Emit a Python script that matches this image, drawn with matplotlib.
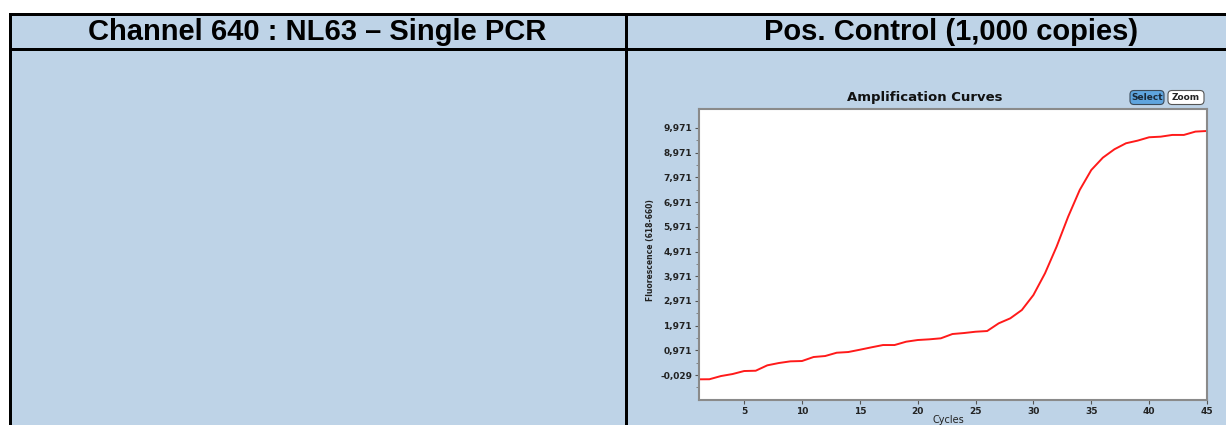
import matplotlib
matplotlib.use("Agg")
import matplotlib.pyplot as plt
from matplotlib.patches import Rectangle, FancyBboxPatch
from matplotlib.ticker import FixedLocator

# ---- data ----
headers = ["Channel 640 : NL63 \u2013 Single PCR", "Pos. Control (1,000 copies)"]
cycles = list(range(1, 46))
fluorescence = [-203, -200, -70, 11, 133, 145, 363, 457, 525, 538,
                700, 740, 874, 902, 995, 1092, 1185, 1185, 1320, 1388,
                1416, 1457, 1631, 1671, 1724, 1752, 2064, 2266, 2603, 3210,
                4088, 5165, 6380, 7461, 8270, 8770, 9110, 9353, 9459, 9596,
                9620, 9690, 9690, 9825, 9850]
y_ticks = [-29, 971, 1971, 2971, 3971, 4971, 5971, 6971, 7971, 8971, 9971]
y_tick_labels = ["-0,029", "0,971", "1,971", "2,971", "3,971", "4,971",
                 "5,971", "6,971", "7,971", "8,971", "9,971"]
x_ticks = [5, 10, 15, 20, 25, 30, 35, 40, 45]
chart_title = "Amplification Curves"
x_label = "Cycles"
y_label = "Fluorescence (618-660)"

W, H = 1226, 425
BG = "#BED3E7"

fig = plt.figure(figsize=(W / 100, H / 100), dpi=100)
fig.patch.set_facecolor("white")

# table layer in pixel coordinates
tab = fig.add_axes([0, 0, 1, 1])
tab.set_xlim(0, W)
tab.set_ylim(H, 0)
tab.axis("off")
tab.add_patch(Rectangle((9.5, 13.5), W, H, facecolor=BG, edgecolor="none"))
lw = 3.0 * 72 / 100
tab.plot([9.5, W], [13.5, 13.5], color="black", lw=lw, solid_capstyle="projecting")
tab.plot([9.5, W], [48.8, 48.8], color="black", lw=lw)
tab.plot([9.5, 9.5], [13.5, H], color="black", lw=lw)
tab.plot([625.5, 625.5], [13.5, H], color="black", lw=lw)
tab.text(317, 32, headers[0], ha="center", va="center", fontsize=21,
         fontweight="bold", family="Liberation Sans", color="black")
tab.text(951, 32, headers[1], ha="center", va="center", fontsize=21,
         fontweight="bold", family="Liberation Sans", color="black")

# chart title and buttons
tab.text(925, 97, chart_title, ha="center", va="center", fontsize=9.5,
         fontweight="bold", family="DejaVu Sans", color="#111111")
tab.add_patch(FancyBboxPatch((1130, 90.5), 34, 14, boxstyle="round,pad=0,rounding_size=4",
                             facecolor="#5FA4DE", edgecolor="#3a4a5a", lw=0.8))
tab.text(1147, 97.8, "Select", ha="center", va="center", fontsize=6.5,
         fontweight="bold", family="DejaVu Sans", color="#1a2a3a")
tab.add_patch(FancyBboxPatch((1168, 90.5), 36, 14, boxstyle="round,pad=0,rounding_size=4",
                             facecolor="white", edgecolor="#555555", lw=0.8))
tab.text(1186, 97.8, "Zoom", ha="center", va="center", fontsize=6.5,
         fontweight="bold", family="DejaVu Sans", color="#222222")
tab.text(948, 420, x_label, ha="center", va="center", fontsize=7, color="#222222")
tab.text(651, 250, y_label, ha="center", va="center", fontsize=5.5, rotation=90,
         fontweight="bold", color="#222222")

# amplification plot
left, right, top, bottom = 699, 1207, 109, 400
ax = fig.add_axes([left / W, (H - bottom) / H, (right - left) / W, (bottom - top) / H])
ax.set_facecolor("white")
ax.plot(cycles, fluorescence, color="#FF1A1A", lw=1.4)
ax.set_xlim(1.1, 45)
ax.set_ylim(-1040, 10740)
ax.set_xticks(x_ticks)
ax.set_xticklabels([str(v) for v in x_ticks])
ax.set_yticks(y_ticks)
ax.set_yticklabels(y_tick_labels)
ax.yaxis.set_minor_locator(FixedLocator([v + 500 for v in y_ticks[:-1]] + [-529]))
for lab in ax.get_xticklabels() + ax.get_yticklabels():
    lab.set_fontweight("bold")
    lab.set_fontsize(6.5)
    lab.set_color("#222222")
ax.tick_params(axis="both", which="major", length=3, width=0.8, color="#555555", pad=2)
ax.tick_params(axis="y", which="minor", length=2, width=0.6, color="#777777")
for side, sp in ax.spines.items():
    sp.set_color("#8a8a8a")
    sp.set_linewidth(1.5)

fig.savefig("out.png", dpi=100, facecolor=fig.get_facecolor())
